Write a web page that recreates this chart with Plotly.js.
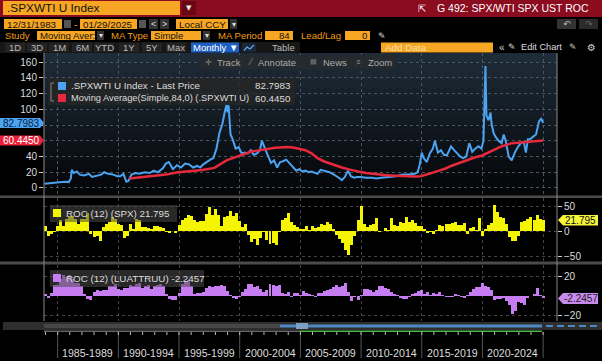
<!DOCTYPE html>
<html><head><meta charset="utf-8">
<script src="https://cdn.plot.ly/plotly-3.0.1.min.js"></script>
<style>html,body{margin:0;padding:0;background:#000;overflow:hidden}#chart{width:602px;height:361px}</style>
</head><body><div id="chart"></div>
<script>
// ---------------- DATA ----------------
const spxwtiDates = ['1983-12','1984-04','1984-08','1984-12','1985-04','1985-08','1985-12','1986-02','1986-03','1986-05',
'1986-08','1986-11','1987-03','1987-08','1987-11','1988-03','1988-08','1988-11','1989-03','1989-08',
'1989-12','1990-03','1990-06','1990-09','1990-11','1991-02','1991-06','1991-10','1992-03','1992-08',
'1992-12','1993-04','1993-09','1993-12','1994-03','1994-07','1994-11','1995-03','1995-07','1995-11',
'1996-03','1996-07','1996-10','1997-01','1997-04','1997-08','1997-11','1998-02','1998-05','1998-08',
'1998-10','1998-12','1999-01','1999-02','1999-04','1999-06','1999-09','1999-12','2000-03','2000-06',
'2000-09','2000-12','2001-03','2001-06','2001-09','2001-11','2002-02','2002-05','2002-08','2002-11',
'2003-02','2003-05','2003-08','2003-11','2004-03','2004-06','2004-09','2004-12','2005-03','2005-06',
'2005-09','2005-12','2006-03','2006-06','2006-09','2006-12','2007-03','2007-06','2007-09','2007-12',
'2008-03','2008-06','2008-09','2008-12','2009-03','2009-06','2009-09','2009-12','2010-06','2010-12',
'2011-04','2011-09','2012-03','2012-07','2012-12','2013-06','2013-12','2014-06','2014-09','2014-11',
'2015-01','2015-03','2015-06','2015-09','2015-12','2016-02','2016-05','2016-08','2016-11','2017-02',
'2017-06','2017-09','2017-12','2018-03','2018-06','2018-09','2018-12','2019-03','2019-06','2019-09',
'2019-12','2020-02','2020-04','2020-05','2020-07','2020-09','2020-10','2020-12','2021-02','2021-05',
'2021-08','2021-10','2021-12','2022-03','2022-06','2022-09','2022-12','2023-03','2023-06','2023-08',
'2023-10','2023-12','2024-03','2024-06','2024-09','2024-11','2025-01'];
const spxwtiValues = [5.5,6,7,7.5,8,8,7.5,12,23,19,
21,17,16,18,14,15,17,20,18,17,
15,15,18,8,9,17,19,18,20,19,
22,20,25,31,33,24,29,26,31,30,
26,28,26,30,33,36,38,50,70,82,
95,106,96,105,68,62,50,52,44,45,
44,48,42,44,48,60,50,40,32,35,
26,33,34,36,30,26,22,24,21,22,
20,21,20,18,23,22,21,20,18,16,
13,10,14,22,15,13,14,14,13,13,
12,13,14,15,15,17,17,18,20,30,
45,38,33,44,50,60,45,48,42,42,
53,48,44,40,38,40,57,46,50,53,
50,60,155,92,86,96,82,70,65,60,
57,68,60,40,35,45,52,57,58,45,
62,62,65,68,85,88,82.8];

const maDates = ['1990-12','1991-12','1992-12','1993-12','1994-12','1995-12','1996-12','1997-12','1998-12',
'1999-06','1999-12','2000-06','2000-12','2001-06','2001-12','2002-06','2002-12','2003-06','2003-12',
'2004-06','2004-12','2005-06','2005-12','2006-06','2006-12','2007-06','2007-12','2008-06','2008-12',
'2009-06','2009-12','2010-06','2010-12','2011-06','2011-12','2012-06','2012-12','2013-06','2013-12',
'2014-06','2014-12','2015-06','2015-12','2016-06','2016-12','2017-06','2017-12','2018-06','2018-12',
'2019-06','2019-12','2020-06','2020-12','2021-06','2021-12','2022-06','2022-12','2023-06','2023-12',
'2024-06','2025-01'];
const maValues = [12,13.5,15,17,20,21.5,23,25.5,35,
38,41,44,46,47.5,49,50,51,51.5,52,
51.5,50,48,44,38,34,31,29,26,24,
22,20.5,19,18,17,16.5,16,15.5,15,14.8,
14.5,15,17,19.5,22,24.5,28,31,34,36.5,
39,41,44,48,52,55,57,57.5,58,59,
59.5,60.4];

const rocDates = `1984-01 1984-04 1984-07 1984-10 1985-01 1985-04 1985-07 1985-10 1986-01 1986-04 1986-07 1986-10
1987-01 1987-04 1987-07 1987-10 1988-01 1988-04 1988-07 1988-10 1989-01 1989-04 1989-07 1989-10
1990-01 1990-04 1990-07 1990-10 1991-01 1991-04 1991-07 1991-10 1992-01 1992-04 1992-07 1992-10
1993-01 1993-04 1993-07 1993-10 1994-01 1994-04 1994-07 1994-10 1995-01 1995-04 1995-07 1995-10
1996-01 1996-04 1996-07 1996-10 1997-01 1997-04 1997-07 1997-10 1998-01 1998-04 1998-07 1998-10
1999-01 1999-04 1999-07 1999-10 2000-01 2000-04 2000-07 2000-10 2001-01 2001-04 2001-07 2001-10
2002-01 2002-04 2002-07 2002-10 2003-01 2003-04 2003-07 2003-10 2004-01 2004-04 2004-07 2004-10
2005-01 2005-04 2005-07 2005-10 2006-01 2006-04 2006-07 2006-10 2007-01 2007-04 2007-07 2007-10
2008-01 2008-04 2008-07 2008-10 2009-01 2009-04 2009-07 2009-10 2010-01 2010-04 2010-07 2010-10
2011-01 2011-04 2011-07 2011-10 2012-01 2012-04 2012-07 2012-10 2013-01 2013-04 2013-07 2013-10
2014-01 2014-04 2014-07 2014-10 2015-01 2015-04 2015-07 2015-10 2016-01 2016-04 2016-07 2016-10
2017-01 2017-04 2017-07 2017-10 2018-01 2018-04 2018-07 2018-10 2019-01 2019-04 2019-07 2019-10
2020-01 2020-04 2020-07 2020-10 2021-01 2021-04 2021-07 2021-10 2022-01 2022-04 2022-07 2022-10
2023-01 2023-04 2023-07 2023-10 2024-01 2024-04 2024-07 2024-10 2025-01`.trim().split(/\s+/);

const rocSpxValues = [10,-9,-6,-2, 10,22,10,24, 30,30,25,15, 24,24,36,-5, -12,-10,-20,8, 14,18,28,25,
14,12,-14,-10, 14,5,25,22, 8,9,7,4, 11,10,9,7, -2,-3,1,-3, 12,22,27,33,
30,23,18,20, 20,35,48,32, 45,32,10,28, 30,40,30,36, 20,8,14,-8, -22,-15,-28,-14,
-2,-18,-25,-24, -28,-2,22,26, 36,18,12,9, 5,4,10,3, 10,7,9,14, 12,18,14,4,
-7,-15,-24,-38, -48,-28,-9,23, 50,14,8,13, 14,27,-2,0, 6,3,27,13, 11,18,17,28,
19,22,17,11, 10,5,-3,-1, -6,2,13,10, 15,15,16,19, 12,12,16,-6, 7,8,2,27,
-9,5,13,16, 52,39,28,27, 14,-12,-20,-19, -9,18,20,24, 28,23,33,25, 21.8];

const rocUstValues = [2,-2,3,12, 12,18,22,20, 22,18,14,14, 10,2,-3,-4, 4,6,5,6, 6,11,10,13,
7,6,8,8, 12,10,13,14, 8,10,12,7, 10,12,13,10, 2,-3,-4,-4, 3,13,15,17,
10,2,3,3, 4,8,10,9, 11,10,12,10, 5,1,-2,-3, -1,4,7,13, 13,9,11,7,
4,6,13,12, 10,12,3,2, 4,-1,3,3, 1,5,3,2, 1,-1,3,3, 5,6,7,9,
12,9,10,14, 4,-5,-1,-4, 1,7,7,6, 4,6,10,10, 8,7,4,2, 1,-2,-3,-3,
-1,2,3,5, 6,2,4,1, 3,2,4,1, -1,-1,-1,2, 1,-1,-2,1, 4,7,9,9,
14,11,9,6, -4,-3,-3,-2, -5,-9,-18,-15, -6,-7,-9,-2, 0,2,8,1, -2.2];

const periodLabels = ['1985-1989','1990-1994','1995-1999','2000-2004','2005-2009','2010-2014','2015-2019','2020-2024'];
const yMainTicks = [0,20,40,60,80,100,120,140,160];
const yMainTickText = ['0','20','40','','','100','120','140','160'];
const ySpxTicks = [-50,0,50];
const yUstTicks = [-20,20];
const lastPrice = '82.7983', lastMA = '60.4450', lastSpx = '21.795', lastUst = '-2.2457';

// ---------------- LAYOUT HELPERS ----------------
const W = 602, H = 361;
const FN = '"Liberation Sans",Arial,sans-serif';
const FR = '"Liberation Sans",Arial,sans-serif';
const FS = '"DejaVu Sans",sans-serif';
const shapes = [], annotations = [];
const fx = x => x / W, fy = y => 1 - y / H;
function R(x0, y0, x1, y1, fill, extra) {
  shapes.push(Object.assign({type:'rect', xref:'paper', yref:'paper', x0:fx(x0), x1:fx(x1), y0:fy(y1), y1:fy(y0),
    fillcolor:fill, line:{width:0}, layer:'above'}, extra || {}));
}
function L(x0, y0, x1, y1, color, width, extra) {
  shapes.push(Object.assign({type:'line', xref:'paper', yref:'paper', x0:fx(x0), x1:fx(x1), y0:fy(y0), y1:fy(y1),
    line:{color:color, width:width}, layer:'above'}, extra || {}));
}
function P(pts, fill, lineColor, lw, closed) {
  const d = 'M' + pts.map(p => fx(p[0]) + ',' + fy(p[1])).join('L') + (closed ? 'Z' : '');
  shapes.push({type:'path', xref:'paper', yref:'paper', path:d, fillcolor:fill || 'rgba(0,0,0,0)',
    line:{color:lineColor || 'rgba(0,0,0,0)', width:lw || 0}, layer:'above'});
}
function T(x, y, text, size, color, anchor, family) {
  annotations.push({xref:'paper', yref:'paper', x:fx(x), y:fy(y), text:text, showarrow:false,
    xanchor:anchor || 'left', yanchor:'middle', borderpad:0,
    font:{family:family || FN, size:size, color:color}});
}

const ORANGE = '#f6a623', ORTXT = '#f39c1a', DARK = '#111';

// header row
R(0, 0, 602, 17, '#8a0c1e');
R(3, 1, 180, 15, ORANGE);
T(6, 8.5, '.SPXWTI U Index', 11.8, DARK);
R(182, 1, 196, 15, '#6a0714');
T(189, 8, '▼', 7, '#eee', 'center', FS);
T(422, 8.5, '⇱', 10, '#fff', 'center', FS);
T(436, 8.5, 'G 492: SPX/WTI SPX UST ROC', 10.5, '#fff');

// row 2
const F2 = 9.8;
R(4, 19, 62, 29, ORANGE); T(6, 24, '12/31/1983', F2, DARK);
R(64, 20, 71, 28, '#555');
T(75, 24, '-', 10, ORTXT, 'center');
R(80, 19, 137, 29, ORANGE); T(82, 24, '01/29/2025', F2, DARK);
R(139, 20, 146, 28, '#555');
R(149, 19, 158, 29, '#333'); T(153.5, 24, '<', 9, '#ddd', 'center');
R(160, 19, 169, 29, '#333'); T(164.5, 24, '>', 9, '#ddd', 'center');
R(176, 19, 228, 29, ORANGE); T(178, 24, 'Local CCY', F2, DARK);
R(230, 19, 237, 29, '#333'); T(233.5, 24, '▾', 8, '#ddd', 'center', FS);
R(557, 19, 576, 29, '#333'); T(566.5, 24, '↶', 9, '#bbb', 'center', FS);
R(579, 19, 598, 29, '#2a2a2a'); T(588.5, 24, '↷', 9, '#666', 'center', FS);

// row 3
const F3 = 9.6;
T(4, 35.5, 'Study', F3, ORTXT);
R(37, 31, 95, 40, ORANGE); T(39, 35.5, 'Moving Aver:', F3, DARK);
R(97, 31, 104, 40, '#333'); T(100.5, 35.5, '▾', 8, '#ddd', 'center', FS);
T(110, 35.5, 'MA Type', F3, ORTXT);
R(151, 31, 201, 40, ORANGE); T(153, 35.5, 'Simple', F3, DARK);
R(203, 31, 210, 40, '#333'); T(206.5, 35.5, '▾', 8, '#ddd', 'center', FS);
T(217, 35.5, 'MA Period', F3, ORTXT);
R(265, 31, 293, 40, ORANGE); T(291, 35.5, '84', F3, DARK, 'right');
T(300, 35.5, 'Lead/Lag', F3, ORTXT);
R(345, 31, 370, 40, ORANGE); T(368, 35.5, '0', F3, DARK, 'right');
T(382, 35.5, '✎', 9, '#ddd', 'center', FS);

// row 4 toolbar
R(0, 42, 300, 53, '#161616');
const btns = [['1D',15],['3D',37],['1M',59],['6M',82],['YTD',104],['1Y',129],['5Y',152],['Max',176]];
btns.forEach(b => { R(b[1] - 10, 43, b[1] + 10, 52, '#232323'); T(b[1], 47.5, b[0], 9.5, '#bbb', 'center'); });
R(191, 42.5, 239, 52.5, '#1d5fc4'); T(215, 47.5, 'Monthly ▼', 9.5, '#fff', 'center');
R(242, 43, 256, 52, '#1c2634');
P([[244,50.5],[247,47],[250,49],[254,45]], null, '#5aa7ff', 1.2, false);
T(283, 47.5, 'Table', 9.5, '#bbb', 'center');
R(381, 42.5, 493, 52.5, ORANGE); T(384, 47.5, 'Add Data', 9.8, '#fde0ae');
T(502, 47.5, '«', 10, '#ccc', 'center');
T(512, 47.5, '✎', 9, '#ddd', 'center', FS);
T(520, 47.5, 'Edit Chart', 9.2, '#ddd');
T(573, 47.5, '✎', 9, '#ccc', 'center', FS);
T(591, 47.5, '⚙', 10, '#ccc', 'center', FS);

// main panel background gradient
const NB = 16, mTop = 53, mBot = 196;
for (let i = 0; i < NB; i++) {
  const t = i / (NB - 1);
  const c = 'rgb(' + Math.round(30 - 26 * t) + ',' + Math.round(43 - 37 * t) + ',' + Math.round(56 - 48 * t) + ')';
  R(44, mTop + i * (mBot - mTop) / NB, 557, mTop + (i + 1) * (mBot - mTop) / NB + 0.5, c, {layer:'below'});
}

// panel separators & frame
R(0, 195.5, 602, 198, '#4b4b4b');
R(0, 261.5, 602, 264.5, '#4b4b4b');
L(44, 53, 44, 321, '#8a8a8a', 1);
L(557, 53, 557, 321, '#8a8a8a', 1);

// floating toolbar
R(199, 55, 395, 69, 'rgba(38,42,46,0.92)');
T(208, 62, '✛', 8, '#888', 'center', FS); T(216, 62, 'Track', 9.5, '#aaa');
T(251, 62, '⁄', 9, '#888', 'center', FS); T(257, 62, 'Annotate', 9.5, '#aaa');
T(313, 62, '▤', 7, '#888', 'center', FS); T(322, 62, 'News', 9.5, '#aaa');
T(358, 62, '⌕', 9, '#888', 'center', FS); T(367, 62, 'Zoom', 9.5, '#aaa');

// main legend
const FL = 9.3;
R(48, 78, 295, 105, 'rgba(38,38,38,0.8)');
P([[54,83],[51,83],[51,101],[54,101]], null, '#888', 1, false);
R(58, 82, 66, 90, '#4ba3f2');
R(58, 94, 66, 102, '#e8283c');
T(70, 86, '.SPXWTI U Index - Last Price', 9.8, '#ddd');
T(292, 86, lastPrice, 9.8, '#ddd', 'right');
T(70, 98, 'Moving Average(Simple,84,0) (.SPXWTI U)', FL, '#ddd');
T(292, 98, lastMA, 9.8, '#ddd', 'right');

// left value tags
P([[0,118],[40,118],[44,123],[40,128],[0,128]], '#4ba3f2', null, 0, true);
T(2, 123, lastPrice, 10, '#0b1d3a', 'left', FR);
P([[0,135.5],[40,135.5],[44,140.5],[40,145.5],[0,145.5]], '#e8213a', null, 0, true);
T(2, 140.5, lastMA, 10, '#fff', 'left', FR);

// ROC legends
R(50, 205, 177, 222, 'rgba(75,75,75,0.55)');
R(53, 209, 61, 217, '#f5f500');
T(65, 213.5, 'ROC (12) (SPX) ' + lastSpx, 9.8, '#ddd');
R(50, 270, 204, 287, 'rgba(75,75,75,0.55)');
R(53, 274, 61, 282, '#c77df2');
T(65, 278.5, 'ROC (12) (LUATTRUU) ' + lastUst, 9.8, '#ddd');

// right value tags
P([[558,220],[563,215],[598,215],[598,225.5],[563,225.5]], '#f5f53a', null, 0, true);
T(564, 220.3, lastSpx, 10, '#111', 'left', FR);
P([[558,298.5],[563,293],[598,293],[598,304],[563,304]], '#c98af0', null, 0, true);
T(563, 298.5, lastUst, 10, '#222', 'left', FR);

// bottom scroller
R(3, 322, 602, 330, '#2e2e2e');
R(44, 324, 280, 328, '#474747');
R(280, 324.5, 542, 327.5, '#4e88c4');
R(296, 323, 308, 329, '#7f9fbf');
for (let k = 0; k < 5; k++) R(546 + k * 11, 325, 553 + k * 11, 327, '#4e88c4');
R(44, 330.5, 300, 332, '#666');
R(300, 330.5, 542, 332, '#4fb84f');

// bottom period separators, year ticks and labels (date-referenced)
periodLabels.concat(['2025-2029']).forEach(lab => {
  const y0 = +lab.slice(0, 4);
  shapes.push({type:'line', xref:'x', yref:'paper', x0:y0 + '-01-01', x1:y0 + '-01-01', y0:fy(358), y1:fy(332),
    line:{color:'#555', width:1}, layer:'above'});
});
for (let yr = 1984; yr <= 2025; yr++) {
  shapes.push({type:'line', xref:'x', yref:'paper', x0:yr + '-01-01', x1:yr + '-01-01', y0:fy(335), y1:fy(332),
    line:{color:'#bbb', width:1}, layer:'above'});
}
periodLabels.forEach(lab => {
  const y0 = +lab.slice(0, 4);
  annotations.push({xref:'x', yref:'paper', x:(y0 + 2) + '-07-02', y:fy(353), text:lab, showarrow:false,
    xanchor:'center', yanchor:'middle', font:{family:FN, size:10.6, color:'#ddd'}});
});

// ---------------- TRACES ----------------
const traces = [
  {type:'scatter', mode:'lines', x:spxwtiDates, y:spxwtiValues, xaxis:'x', yaxis:'y',
   line:{color:'#4ba3f2', width:2}, hoverinfo:'skip'},
  {type:'scatter', mode:'lines', x:maDates, y:maValues, xaxis:'x', yaxis:'y',
   line:{color:'#e8283c', width:2.5}, hoverinfo:'skip'},
  {type:'bar', x:rocDates, y:rocSpxValues, xaxis:'x2', yaxis:'y2',
   marker:{color:'#f5f500', line:{width:0}}, hoverinfo:'skip'},
  {type:'bar', x:rocDates, y:rocUstValues, xaxis:'x3', yaxis:'y3',
   marker:{color:'#c77df2', line:{width:0}}, hoverinfo:'skip'}
];

const xdom = [44 / W, 557 / W];
const xrange = ['1983-11-17', '2026-02-22'];
const xbase = {type:'date', domain:xdom, range:xrange, showticklabels:false, ticks:'', showgrid:true,
  gridcolor:'#4a5560', griddash:'dot', gridwidth:1, dtick:'M60', tick0:'1985-01-01', zeroline:false, showline:false};
const tf = {family:FR, size:10, color:'#ddd'};

const layout = {
  width:W, height:H, margin:{l:0, r:0, t:0, b:0, pad:0},
  paper_bgcolor:'#000', plot_bgcolor:'rgba(0,0,0,0)', showlegend:false, bargap:0,
  xaxis:Object.assign({}, xbase, {anchor:'y'}),
  xaxis2:Object.assign({}, xbase, {anchor:'y2', matches:'x', gridcolor:'#444'}),
  xaxis3:Object.assign({}, xbase, {anchor:'y3', matches:'x', gridcolor:'#444'}),
  yaxis:{domain:[fy(196), fy(53)], range:[-10.2, 171.6], anchor:'x', side:'left', tickvals:yMainTicks,
    ticktext:yMainTickText,
    ticks:'outside', ticklen:4, tickcolor:'#ccc', tickfont:tf, showgrid:true, gridcolor:'#4a5560', griddash:'dot',
    zeroline:false, showline:false},
  yaxis2:{domain:[fy(261.5), fy(198)], range:[-61, 66], anchor:'x2', side:'right', tickvals:ySpxTicks,
    ticks:'outside', ticklen:4, tickcolor:'#ccc', tickfont:tf, showgrid:true, gridcolor:'#444', griddash:'dot',
    zeroline:false, showline:false},
  yaxis3:{domain:[fy(321), fy(264.5)], range:[-25.3, 32.5], anchor:'x3', side:'right', tickvals:yUstTicks,
    ticks:'outside', ticklen:4, tickcolor:'#ccc', tickfont:tf, showgrid:true, gridcolor:'#444', griddash:'dot',
    zeroline:false, showline:false},
  shapes:shapes, annotations:annotations
};

Plotly.newPlot('chart', traces, layout, {staticPlot:true, displayModeBar:false});
</script>
</body></html>
